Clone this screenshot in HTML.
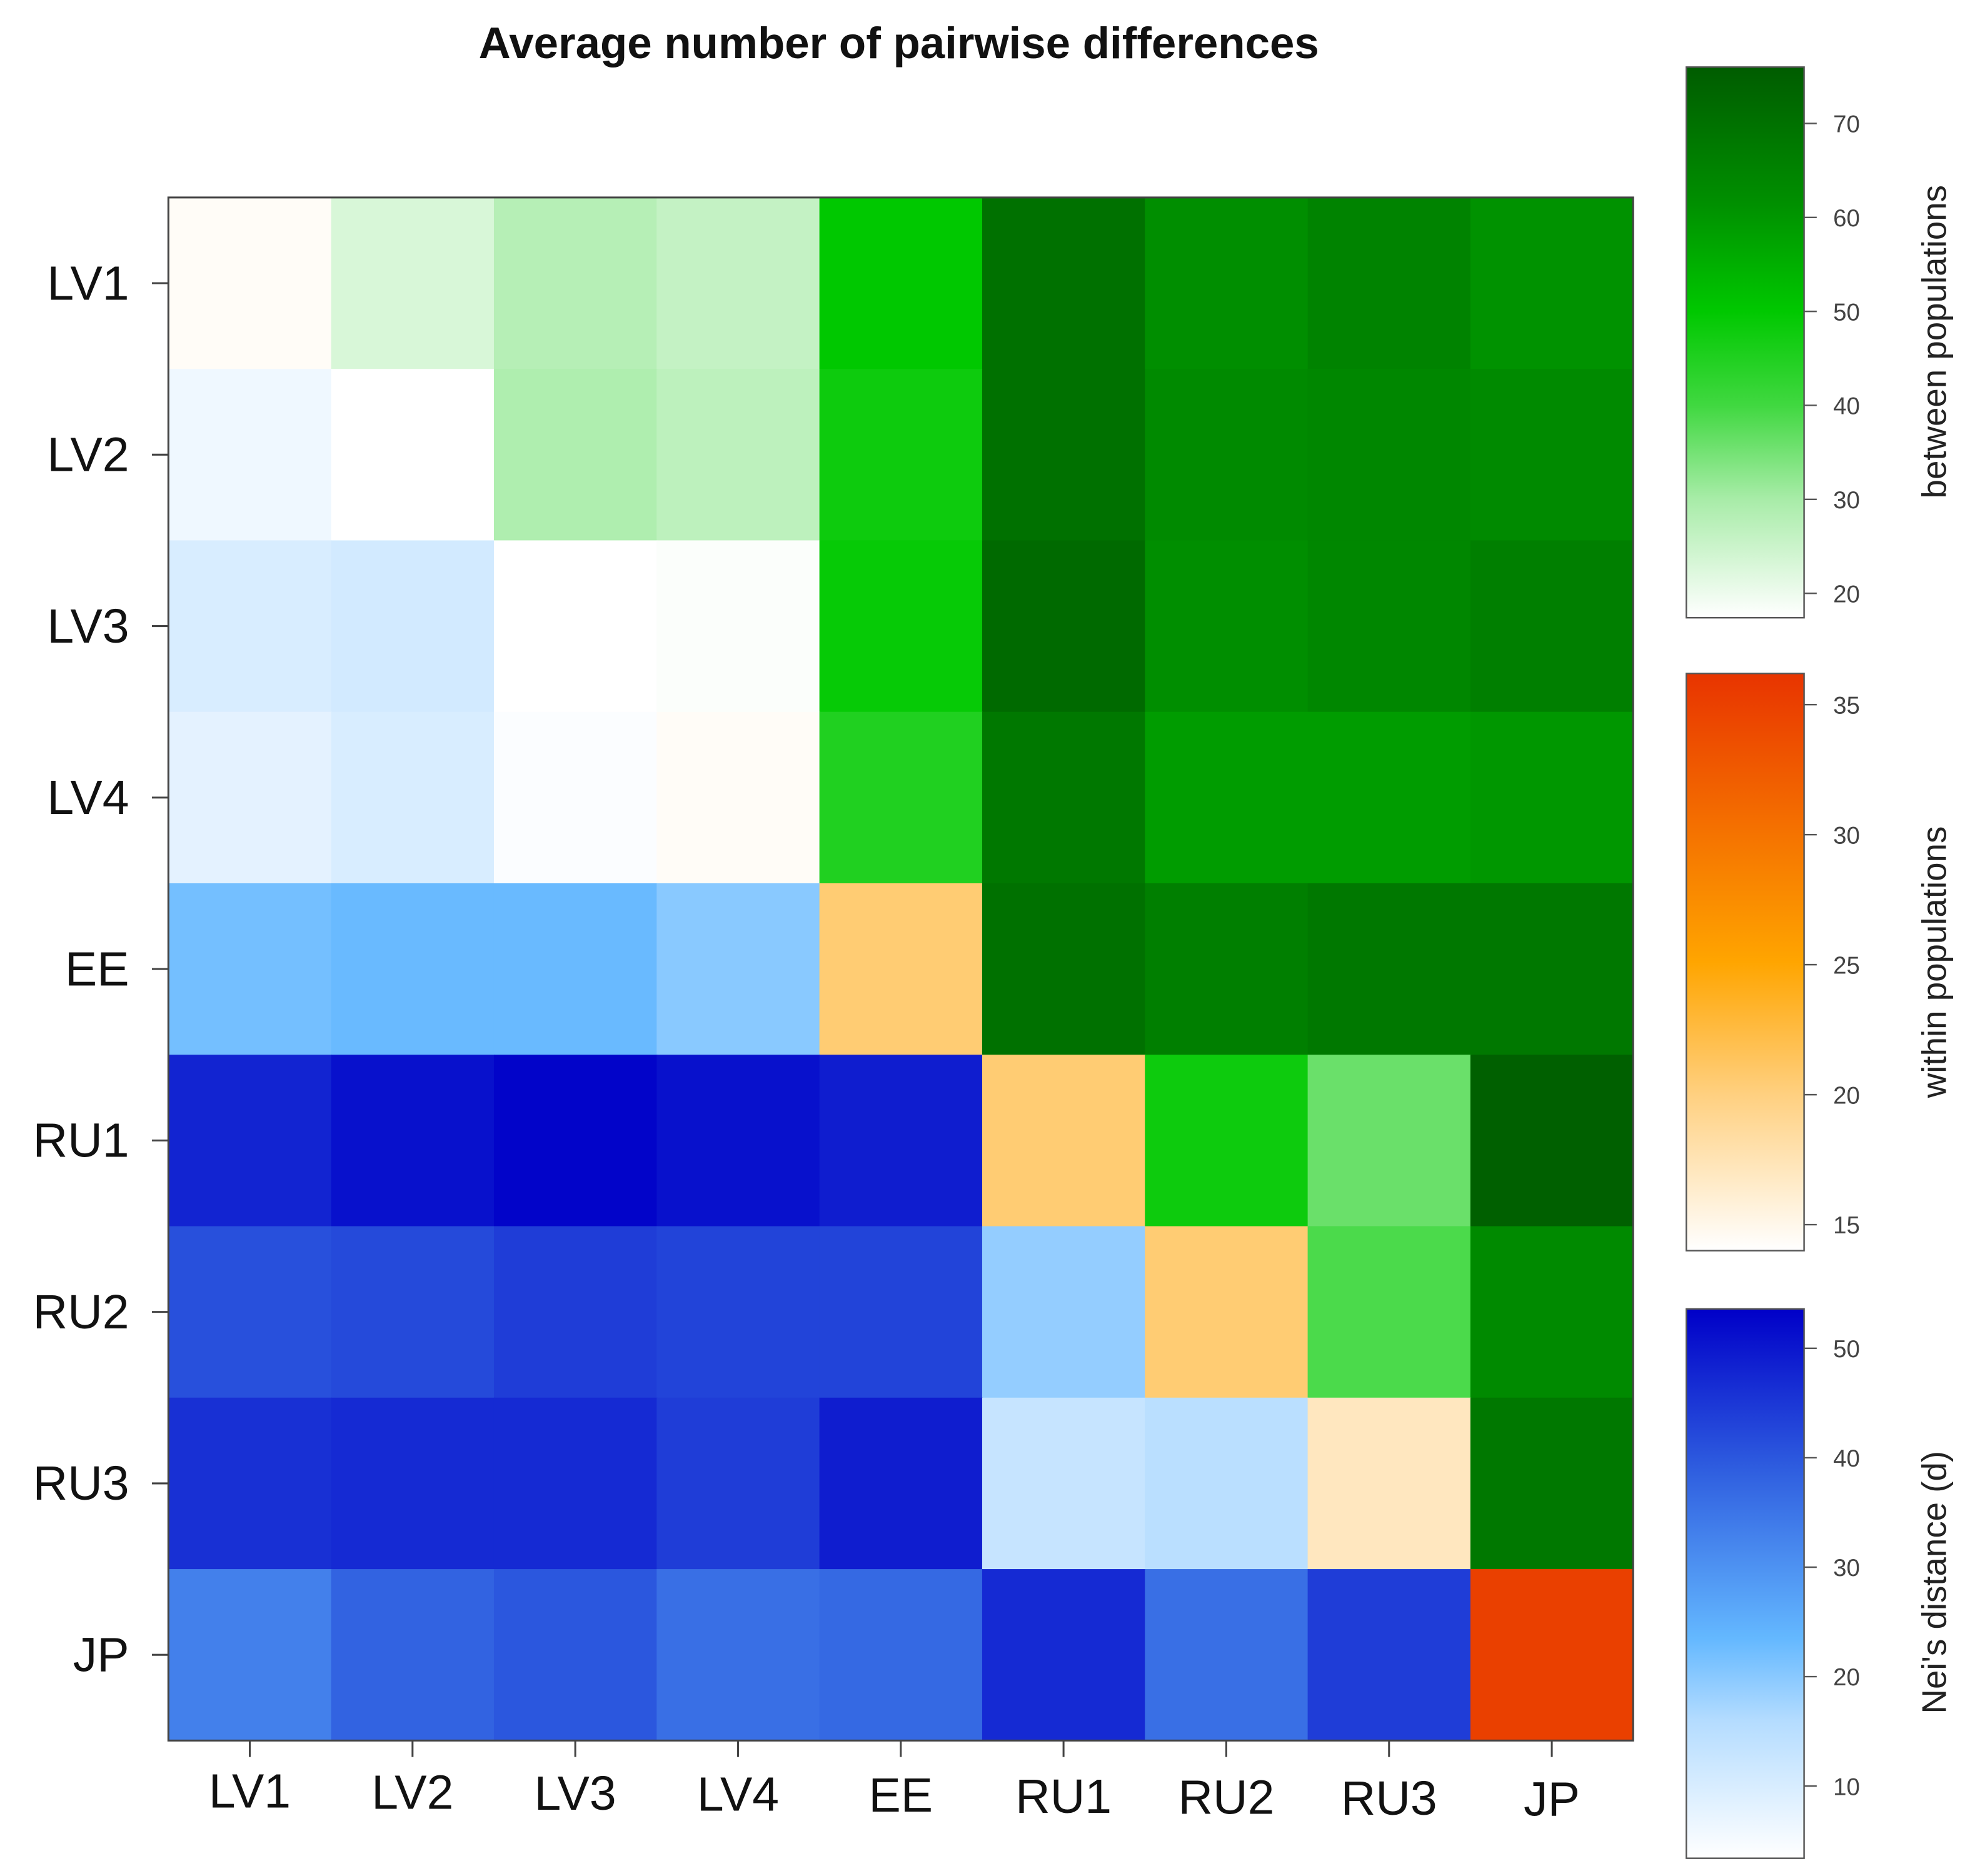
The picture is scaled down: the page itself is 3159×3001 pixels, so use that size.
<!DOCTYPE html>
<html><head><meta charset="utf-8"><style>html,body{margin:0;padding:0;background:#fff;}svg{display:block;}</style></head>
<body>
<svg id="chart" xmlns="http://www.w3.org/2000/svg" width="3159" height="3001" viewBox="0 0 1560 1482" font-family="Liberation Sans, sans-serif">
<defs>
<linearGradient id="gGreen" x1="0" y1="1" x2="0" y2="0">
<stop offset="0" stop-color="#ffffff"/><stop offset="0.215" stop-color="#a8eca8"/><stop offset="0.386" stop-color="#40d840"/><stop offset="0.556" stop-color="#00c800"/><stop offset="0.75" stop-color="#009000"/><stop offset="1" stop-color="#005c00"/>
</linearGradient>
<linearGradient id="gOrange" x1="0" y1="1" x2="0" y2="0">
<stop offset="0" stop-color="#ffffff"/><stop offset="0.27" stop-color="#ffd080"/><stop offset="0.5" stop-color="#ffa500"/><stop offset="1" stop-color="#e83400"/>
</linearGradient>
<linearGradient id="gBlue" x1="0" y1="1" x2="0" y2="0">
<stop offset="0" stop-color="#ffffff"/><stop offset="0.25" stop-color="#b4dcff"/><stop offset="0.4" stop-color="#64b8ff"/><stop offset="0.7" stop-color="#3060e0"/><stop offset="1" stop-color="#0000c8"/>
</linearGradient>
</defs>
<text x="710" y="46" text-anchor="middle" font-size="35" font-weight="bold" fill="#111">Average number of pairwise differences</text>
<g id="cells"></g>
<rect x="133" y="156" width="1157" height="1219" fill="none" stroke="#444" stroke-width="1.5"/>
<g id="axes"></g>
<g id="bars"></g>
<text transform="translate(1537,270) rotate(-90)" text-anchor="middle" font-size="27" fill="#222">between populations</text>
<text transform="translate(1537,760) rotate(-90)" text-anchor="middle" font-size="27" fill="#222">within populations</text>
<text transform="translate(1537,1250) rotate(-90)" text-anchor="middle" font-size="27" fill="#222">Nei's distance (d)</text>
</svg>
<script>
const categories = ["LV1","LV2","LV3","LV4","EE","RU1","RU2","RU3","JP"];
const diagValues = [14.4,14,14,14.4,20.5,20.5,20.5,17,35];
const greenValues = [
 [null,23,28,26,50,70,62,65,61],
 [null,null,29,27,48,70,63,64,63],
 [null,null,null,18,49,72,62,64,66],
 [null,null,null,null,45,68,59,59,60],
 [null,null,null,null,null,70,66,68,68],
 [null,null,null,null,null,null,48,36,75],
 [null,null,null,null,null,null,null,39,63],
 [null,null,null,null,null,null,null,null,68],
 [null,null,null,null,null,null,null,null,null]];
const blueValues = [
 [],
 [6],
 [10,11],
 [8,10,4],
 [22,23,23,20],
 [48,51,53,51,49],
 [41,42,44,43,43,19],
 [46,47,47,44,49,13,15],
 [33,38,40,36,37,47,36,44]];
const greenTicks = [20,30,40,50,60,70];
const orangeTicks = [15,20,25,30,35];
const blueTicks = [10,20,30,40,50];

const NS="http://www.w3.org/2000/svg";
function mk(t,a,p){const e=document.createElementNS(NS,t);for(const k in a)e.setAttribute(k,a[k]);p.appendChild(e);return e;}
function hex(c){return [parseInt(c.slice(1,3),16),parseInt(c.slice(3,5),16),parseInt(c.slice(5,7),16)];}
function ramp(stops,t){t=Math.max(0,Math.min(1,t));for(let i=1;i<stops.length;i++){if(t<=stops[i][0]){const a=stops[i-1],b=stops[i];const f=(t-a[0])/(b[0]-a[0]||1);const ca=hex(a[1]),cb=hex(b[1]);return "rgb("+ca.map((v,k)=>Math.round(v+(cb[k]-v)*f)).join(",")+")";}}return stops[stops.length-1][1];}
const GS=[[0,"#ffffff"],[0.215,"#a8eca8"],[0.386,"#40d840"],[0.556,"#00c800"],[0.75,"#009000"],[1,"#005c00"]];
const OS=[[0,"#ffffff"],[0.27,"#ffd080"],[0.5,"#ffa500"],[1,"#e83400"]];
const BS=[[0,"#ffffff"],[0.25,"#b4dcff"],[0.4,"#64b8ff"],[0.7,"#3060e0"],[1,"#0000c8"]];
const gMin=17.4,gMax=76,oMin=14,oMax=36.2,bMin=3.4,bMax=53.6;
const X0=133,Y0=156,W=1157,H=1219,n=categories.length,cw=W/n,ch=H/n;
const xPos=i=>X0+i*cw, yPos=i=>Y0+i*ch;
const cells=document.getElementById('cells');
for(let r=0;r<n;r++)for(let c=0;c<n;c++){
 let col;
 if(r===c)col=ramp(OS,(diagValues[r]-oMin)/(oMax-oMin));
 else if(c>r)col=ramp(GS,(greenValues[r][c]-gMin)/(gMax-gMin));
 else col=ramp(BS,(blueValues[r][c]-bMin)/(bMax-bMin));
 const e=mk('rect',{x:xPos(c),y:yPos(r),width:cw+0.6,height:ch+0.6,fill:col},cells);
 
 
}
const axes=document.getElementById('axes');
categories.forEach((c,i)=>{
 const y=yPos(i)+ch/2;
 mk('line',{x1:120,x2:133,y1:y,y2:y,stroke:'#444','stroke-width':1.5},axes);
 const t=mk('text',{x:102,y:y+13,'text-anchor':'end','font-size':38,fill:'#111'},axes);t.textContent=c;
 
 
 const x=xPos(i)+cw/2;
 mk('line',{x1:x,x2:x,y1:1375,y2:1388,stroke:'#444','stroke-width':1.5},axes);
 const t2=mk('text',{x:x,y:1428+i*0.8,'text-anchor':'middle','font-size':38,fill:'#111'},axes);t2.textContent=c;
 
 
});
const bars=document.getElementById('bars');
function bar(name,y0,y1,grad,vmin,vmax,ticks){
 const r=mk('rect',{x:1332,y:y0,width:93,height:y1-y0,fill:'url(#'+grad+')',stroke:'#555','stroke-width':1.2},bars);
 
 
 ticks.forEach(v=>{
  const y=y1-(v-vmin)/(vmax-vmin)*(y1-y0);
  mk('line',{x1:1425,x2:1435,y1:y,y2:y,stroke:'#555','stroke-width':1.2},bars);
  const t=mk('text',{x:1448,y:y+7,'font-size':19,fill:'#444'},bars);t.textContent=v;
  
  
 });
}
bar('colorbar-green',53,488,'gGreen',gMin,gMax,greenTicks);
bar('colorbar-orange',532,988,'gOrange',oMin,oMax,orangeTicks);
bar('colorbar-blue',1034,1468,'gBlue',bMin,bMax,blueTicks);
</script>
</body></html>
